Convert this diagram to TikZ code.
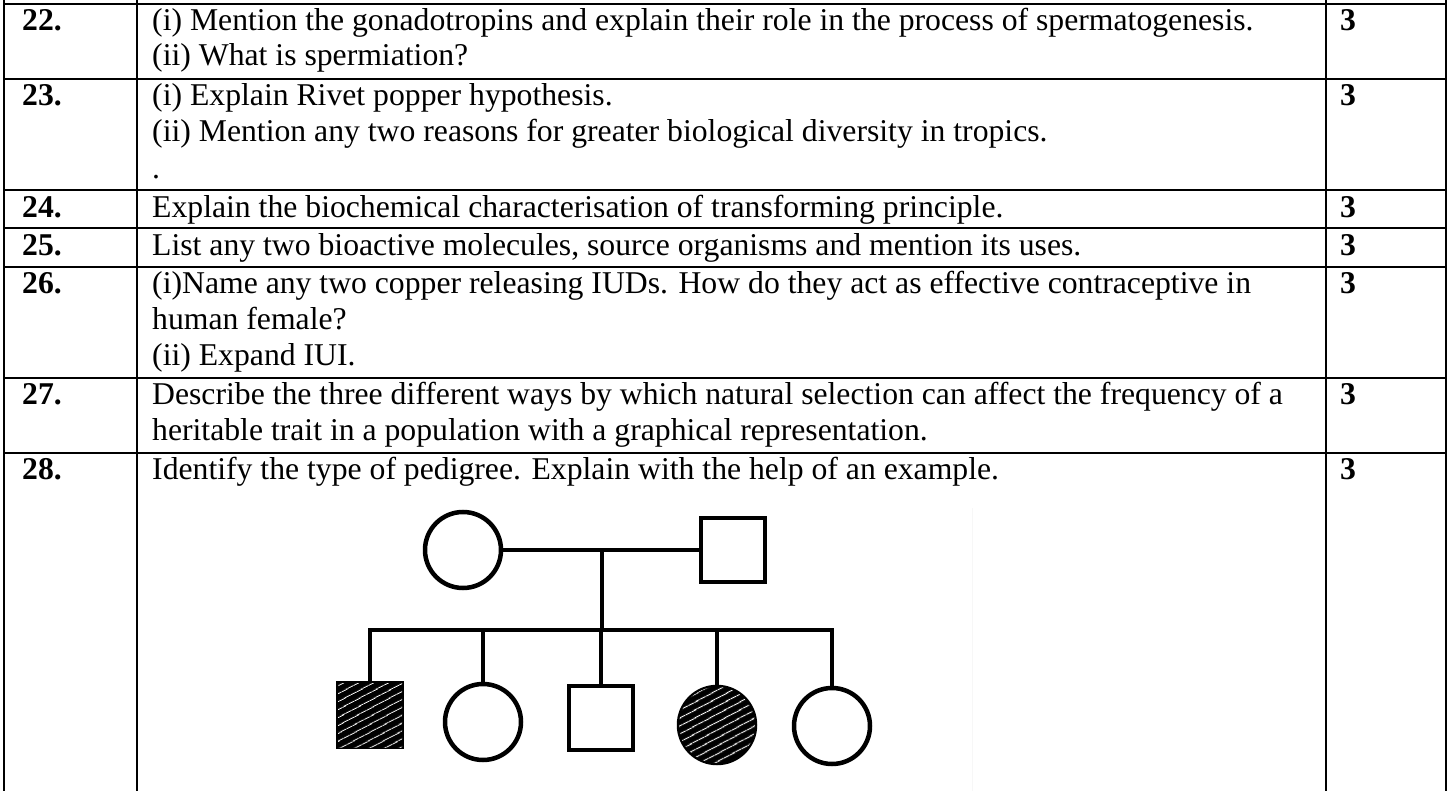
\documentclass[tikz,border=0pt]{standalone}
\usepackage{fontspec}
\setmainfont{Liberation Serif}
\usetikzlibrary{patterns.meta}

\tikzset{
  txt/.style={anchor=base west, inner sep=0pt, font=\fontsize{31.7}{36}\selectfont},
  num/.style={txt, font=\fontsize{31.7}{36}\selectfont\bfseries},
  rule/.style={line width=2.4pt},
  female/.style={circle, draw, line width=4.5pt, minimum size=76pt, inner sep=0pt},
  male/.style={rectangle, draw, line width=4.5pt, minimum size=64pt, inner sep=0pt},
  affected/.style={fill=black, postaction={pattern={Lines[angle=28,distance=6.5pt,line width=1pt]}, pattern color=white}},
  link/.style={line width=4pt, line join=miter}
}

\begin{document}
\begin{tikzpicture}[x=1pt, y=-1pt]
  \useasboundingbox (0,0) rectangle (1449,791);

  % table rules
  \foreach \y in {4,79,190,228,267,378,453}
    \draw[rule] (4,\y) -- (1446,\y);
  \foreach \x in {4,137,1326,1446}
    \draw[rule] (\x,0) -- (\x,791);

  % question numbers and marks
  \foreach \n/\y in {22/31,23/106,24/218,25/256,26/294,27/405,28/479} {
    \node[num] (no\n) at (22,\y) {\n.};
    \node[num] (mk\n) at (1340,\y) {3};
  }

  % questions
  \node[txt] (q22a) at (152,31) {(i) Mention the gonadotropins and explain their role in the process of spermatogenesis.};
  \node[txt] (q22b) at (152,66) {(ii) What is spermiation?};
  \node[txt] (q23a) at (152,106) {(i) Explain Rivet popper hypothesis.};
  \node[txt] (q23b) at (152,142) {(ii) Mention any two reasons for greater biological diversity in tropics.};
  \node[txt] (q23c) at (152,179) {.};
  \node[txt] (q24) at (152,218) {Explain the biochemical characterisation of transforming principle.};
  \node[txt] (q25) at (152,256) {List any two bioactive molecules, source organisms and mention its uses.};
  \node[txt] (q26a) at (152,294) {(i)Name any two copper releasing IUDs. How do they act as effective contraceptive in};
  \node[txt] (q26b) at (152,330) {human female?};
  \node[txt] (q26c) at (152,366) {(ii) Expand IUI.};
  \node[txt] (q27a) at (152,405) {Describe the three different ways by which natural selection can affect the frequency of a};
  \node[txt] (q27b) at (152,441) {heritable trait in a population with a graphical representation.};
  \node[txt] (q28) at (152,479) {Identify the type of pedigree. Explain with the help of an example.};

  % edge of the pasted pedigree
  \draw[gray!6, line width=1pt] (972,508) -- (972,791);

  % pedigree
  \node[female] (mother) at (463,550) {};
  \node[male] (father) at (733,550) {};
  \node[male, affected] (son1) at (370,715) {};
  \node[female] (dau1) at (483,722) {};
  \node[male] (son2) at (601,718) {};
  \node[female, affected] (dau2) at (717,725) {};
  \node[female] (dau3) at (832,726) {};
  \coordinate (union) at (602,551);
  \coordinate (sib) at (602,630);

  \draw[link] (mother.east) -- (father.west);
  \draw[link] (union) -- (sib);
  \draw[link] (son1.north) -- (son1.north |- sib) -- (dau3.north |- sib) -- (dau3.north);
  \foreach \c in {dau1,son2,dau2}
    \draw[link] (\c.north) -- (\c.north |- sib);
\end{tikzpicture}
\end{document}
